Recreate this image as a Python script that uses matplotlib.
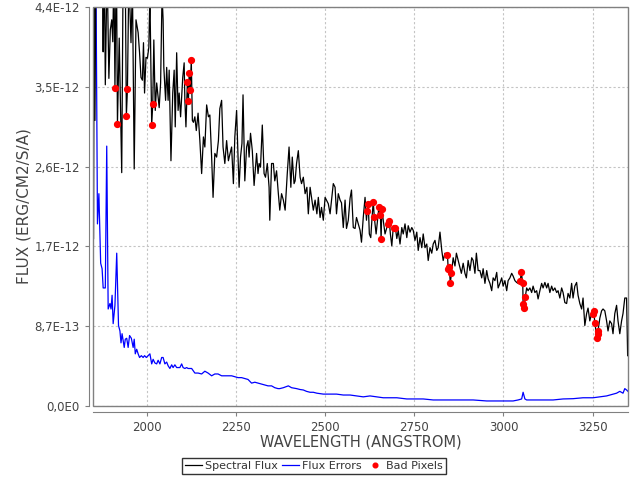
import matplotlib
matplotlib.use('Agg')
import matplotlib.pyplot as plt
from matplotlib.patches import Rectangle
import numpy as np

###############################################################################
# data (flux in units of 1e-12 erg/cm2/s/A)

wave = [1851, 1853, 1855, 1858, 1870, 1875, 1878, 1881, 1884, 1889, 1894, 1898,
        1902, 1905, 1908, 1915, 1923, 1930, 1934, 1939, 1950, 1956, 1960, 1965,
        1970, 1976, 1980, 1984, 1988, 1991, 1994, 1998, 2002, 2006, 2009, 2020,
        2024, 2028, 2032, 2035, 2039, 2043, 2046, 2048, 2053, 2056, 2060, 2063,
        2068, 2073, 2077, 2080, 2084, 2088, 2091, 2095, 2101, 2105, 2107, 2110,
        2128, 2131, 2135, 2139, 2144, 2149, 2154, 2159, 2163, 2168, 2173, 2177,
        2182, 2186, 2191, 2196, 2201, 2205, 2210, 2214, 2219, 2224, 2229, 2233,
        2238, 2243, 2247, 2252, 2256, 2259, 2263, 2267, 2270, 2275, 2280, 2284,
        2287, 2291, 2296, 2301, 2305, 2308, 2312, 2315, 2319, 2324, 2329, 2333,
        2338, 2343, 2345, 2350, 2355, 2359, 2364, 2369, 2373, 2378, 2383, 2388,
        2394, 2399, 2404, 2408, 2413, 2416, 2420, 2425, 2430, 2434, 2439, 2444,
        2449, 2453, 2458, 2462, 2467, 2472, 2477, 2481, 2486, 2490, 2495, 2500,
        2504, 2509, 2514, 2518, 2523, 2528, 2532, 2537, 2542, 2546, 2551, 2556,
        2560, 2565, 2570, 2574, 2579, 2584, 2588, 2593, 2598, 2602, 2607, 2612,
        2616, 2624, 2628, 2632, 2643, 2646, 2663, 2668, 2673, 2683, 2687, 2691,
        2701, 2705, 2710, 2715, 2719, 2724, 2729, 2733, 2738, 2743, 2747, 2752,
        2757, 2761, 2766, 2771, 2775, 2780, 2785, 2789, 2794, 2799, 2803, 2808,
        2813, 2817, 2822, 2827, 2831, 2836, 2859, 2864, 2868, 2873, 2878, 2882,
        2887, 2892, 2896, 2901, 2906, 2911, 2915, 2920, 2924, 2929, 2934, 2939,
        2943, 2948, 2953, 2957, 2962, 2967, 2971, 2976, 2981, 2985, 2990, 2995,
        2999, 3004, 3009, 3013, 3018, 3023, 3027, 3032, 3037, 3041, 3065, 3069,
        3074, 3079, 3083, 3088, 3093, 3097, 3102, 3107, 3111, 3116, 3121, 3125,
        3130, 3135, 3139, 3144, 3149, 3153, 3158, 3163, 3167, 3172, 3177, 3181,
        3186, 3191, 3195, 3200, 3205, 3209, 3214, 3219, 3223, 3228, 3233, 3237,
        3242, 3247, 3270, 3275, 3279, 3284, 3289, 3293, 3298, 3303, 3307, 3312,
        3317, 3321, 3326, 3331, 3335, 3340, 3345, 3348]

flux = [1.83, 5.0, 3.12, 5.0, 5.5, 5.0, 3.87, 5.0, 3.51, 4.8, 3.58, 4.11,
        4.22, 3.98, 4.8, 5.0, 4.02, 2.55, 4.8, 5.2, 4.7, 3.97, 4.6, 2.59,
        4.22, 4.08, 3.86, 3.59, 3.56, 3.97, 3.42, 3.81, 3.80, 3.92, 4.5, 4.00,
        3.23, 3.53, 3.37, 3.26, 3.53, 4.5, 4.22, 3.70, 3.34, 3.70, 3.34, 3.67,
        2.68, 3.42, 3.67, 3.05, 3.86, 3.23, 3.42, 3.16, 3.59, 3.75, 3.34, 3.05,
        3.12, 3.10, 3.16, 3.01, 3.20, 2.90, 2.54, 2.94, 2.83, 3.29, 3.16, 3.18,
        2.72, 2.28, 2.76, 2.72, 2.90, 3.25, 3.34, 2.83, 2.65, 2.90, 2.68, 2.75,
        2.83, 2.43, 2.94, 3.23, 2.72, 2.39, 2.72, 2.87, 3.40, 2.46, 2.83, 2.90,
        2.72, 2.98, 2.79, 2.41, 2.61, 2.76, 2.54, 2.65, 2.61, 3.07, 2.54, 2.50,
        2.65, 2.39, 2.03, 2.65, 2.65, 2.46, 2.57, 2.32, 2.14, 2.32, 2.25, 2.14,
        2.54, 2.83, 2.39, 2.72, 2.43, 2.46, 2.65, 2.79, 2.50, 2.43, 2.50, 2.32,
        2.39, 2.10, 2.39, 2.28, 2.14, 2.25, 2.10, 2.28, 2.06, 2.17, 2.03, 2.28,
        2.25, 2.21, 2.10, 2.25, 2.43, 2.39, 2.10, 2.32, 2.25, 2.22, 1.95, 2.25,
        1.94, 2.03, 2.27, 2.36, 1.95, 1.94, 2.06, 1.99, 1.92, 1.79, 2.06, 2.28,
        2.03, 1.88, 1.84, 2.08, 1.88, 1.99, 2.03, 1.88, 1.95, 1.88, 1.75, 1.95,
        1.83, 1.92, 1.77, 1.95, 1.88, 1.99, 1.84, 1.97, 1.90, 1.95, 1.92, 1.81,
        1.90, 1.70, 1.84, 1.73, 1.88, 1.73, 1.77, 1.59, 1.73, 1.67, 1.77, 1.81,
        1.70, 1.73, 1.90, 1.70, 1.59, 1.67, 1.62, 1.53, 1.67, 1.59, 1.51, 1.45,
        1.56, 1.45, 1.40, 1.59, 1.48, 1.62, 1.59, 1.45, 1.67, 1.48, 1.48, 1.40,
        1.50, 1.34, 1.48, 1.39, 1.34, 1.26, 1.40, 1.37, 1.46, 1.29, 1.34, 1.40,
        1.31, 1.37, 1.26, 1.37, 1.40, 1.45, 1.42, 1.37, 1.35, 1.34, 1.29, 1.26,
        1.29, 1.24, 1.31, 1.24, 1.26, 1.17, 1.26, 1.34, 1.29, 1.35, 1.29, 1.34,
        1.24, 1.31, 1.26, 1.29, 1.24, 1.26, 1.18, 1.29, 1.24, 1.13, 1.12, 1.23,
        1.18, 1.34, 1.18, 1.31, 1.35, 1.21, 1.12, 1.06, 1.18, 0.88, 1.01, 1.07,
        0.93, 1.01, 0.96, 1.04, 1.06, 1.04, 0.93, 0.82, 0.93, 0.90, 0.79, 1.01,
        1.10, 0.93, 0.79, 0.93, 1.01, 1.18, 1.18, 0.55]

# bad pixels (also part of the flux spectrum)
bad_wave = [1911, 1918, 1943, 1946, 2014, 2017, 2114, 2117, 2119, 2122, 2125,
            2618, 2621, 2635, 2638, 2651, 2655, 2657, 2659, 2677, 2680, 2694,
            2697, 2843, 2845, 2848, 2851, 2854, 3047, 3050, 3054, 3055, 3058,
            3061, 3251, 3253, 3256, 3262, 3264, 3265]
bad_flux = [3.48, 3.08, 3.17, 3.46, 3.07, 3.30, 3.54, 3.33, 3.64, 3.45, 3.78,
            2.13, 2.21, 2.23, 2.06, 2.18, 2.09, 1.82, 2.15, 1.99, 2.02, 1.95,
            1.95, 1.65, 1.50, 1.52, 1.34, 1.45, 1.37, 1.46, 1.34, 1.12, 1.07,
            1.19, 1.00, 1.04, 0.91, 0.74, 0.79, 0.82]

# flux errors
err_wave = [1853, 1858, 1862, 1866, 1871, 1875, 1878, 1884, 1888, 1892, 1897,
            1900, 1903, 1906, 1911, 1916, 1921, 1925, 1928, 1931, 1937, 1940,
            1944, 1948, 1952, 1957, 1962, 1965, 1968, 1972, 1976, 1980, 1985,
            1990, 1994, 1999, 2009, 2014, 2018, 2023, 2028, 2032, 2037, 2042,
            2046, 2051, 2056, 2060, 2065, 2070, 2074, 2079, 2084, 2088, 2093,
            2098, 2102, 2107, 2112, 2116, 2126, 2135, 2144, 2154, 2163, 2172,
            2182, 2191, 2200, 2210, 2219, 2228, 2238, 2247, 2256, 2266, 2275,
            2284, 2294, 2303, 2312, 2322, 2331, 2340, 2350, 2359, 2368, 2373,
            2383, 2397, 2406, 2420, 2430, 2439, 2448, 2458, 2467, 2477, 2495,
            2514, 2532, 2551, 2570, 2588, 2607, 2626, 2644, 2663, 2682, 2701,
            2729, 2747, 2775, 2803, 2840, 2878, 2915, 2953, 2990, 3027, 3041,
            3051, 3055, 3060, 3065, 3102, 3139, 3167, 3195, 3223, 3251, 3270,
            3289, 3307, 3317, 3326, 3335, 3340, 3345, 3349]
err = [6.0, 4.6, 1.99, 2.32, 1.56, 1.50, 1.29, 1.29, 2.84, 1.06, 1.12,
       1.06, 1.21, 0.90, 1.10, 1.67, 0.88, 0.82, 0.69, 0.79, 0.64, 0.73,
       0.74, 0.64, 0.77, 0.74, 0.64, 0.73, 0.57, 0.62, 0.57, 0.53, 0.55,
       0.53, 0.55, 0.53, 0.57, 0.46, 0.51, 0.47, 0.46, 0.50, 0.46, 0.53,
       0.53, 0.46, 0.48, 0.44, 0.41, 0.45, 0.42, 0.45, 0.42, 0.42, 0.42,
       0.46, 0.42, 0.41, 0.42, 0.41, 0.41, 0.36, 0.36, 0.35, 0.38, 0.36,
       0.33, 0.35, 0.35, 0.33, 0.33, 0.33, 0.33, 0.32, 0.31, 0.31, 0.30,
       0.29, 0.25, 0.26, 0.25, 0.24, 0.23, 0.22, 0.22, 0.20, 0.19, 0.19,
       0.20, 0.22, 0.20, 0.19, 0.18, 0.175, 0.16, 0.15, 0.15, 0.14, 0.13,
       0.13, 0.13, 0.12, 0.12, 0.11, 0.10, 0.11, 0.10, 0.09, 0.09, 0.09,
       0.077, 0.077, 0.077, 0.066, 0.066, 0.066, 0.066, 0.055, 0.055, 0.055, 0.066,
       0.077, 0.15, 0.077, 0.066, 0.066, 0.066, 0.077, 0.08, 0.09, 0.09, 0.10,
       0.11, 0.13, 0.14, 0.16, 0.14, 0.19, 0.175, 0.16]

x_ticks = [2000, 2250, 2500, 2750, 3000, 3250]
y_tick_labels = ['0,0E0', '8,7E-13', '1,7E-12', '2,6E-12', '3,5E-12', '4,4E-12']
y_max = 4.36e-12

###############################################################################
# the line goes through the bad pixels too

all_w = np.array(wave + bad_wave)
all_f = np.array(flux + bad_flux)
order = np.argsort(all_w, kind='stable')
line_w = all_w[order]
line_f = all_f[order] * 1e-12

fig = plt.figure(figsize=(6.4, 4.8), dpi=100)
ax = fig.add_axes([93/640, 1 - 406/480, 535/640, 399/480])

ax.plot(line_w, line_f, color='black', lw=0.9, label='Spectral Flux', zorder=3)
ax.plot(err_wave, np.array(err) * 1e-12, color='blue', lw=0.9,
        label='Flux Errors', zorder=2)
ax.plot(bad_wave, np.array(bad_flux) * 1e-12, 'o', color='red', ms=4.2,
        mec='red', label='Bad Pixels', zorder=4, linestyle='none')

ax.set_xlim(1849.5, 3349)
ax.set_ylim(0, y_max)
ax.set_xticks(x_ticks)
ax.set_yticks(np.linspace(0, y_max, 6))
ax.set_yticklabels(y_tick_labels)

ax.grid(True, color='#c4c4c4', linestyle=(0, (2, 2)), lw=0.8)
ax.set_axisbelow(True)

# axis lines sit a few pixels away from the plot border
for s in ['top', 'right']:
    ax.spines[s].set_visible(False)
ax.spines['left'].set_position(('outward', 3))
ax.spines['bottom'].set_position(('outward', 4))
for s in ['left', 'bottom']:
    ax.spines[s].set_color('#808080')
ax.add_patch(Rectangle((0, 0), 1, 1, transform=ax.transAxes, fill=False,
                       ec='#808080', lw=1, clip_on=False, zorder=5))

ax.tick_params(colors='#808080', labelcolor='#444444', labelsize=8.5,
               length=3, width=0.8)

ax.set_xlabel('WAVELENGTH (ANGSTROM)', fontsize=10.5, color='#444444', labelpad=1)
ax.set_ylabel('FLUX (ERG/CM2/S/A)', fontsize=11, color='#444444', labelpad=2)

leg = fig.legend(loc='center', bbox_to_anchor=(314/640, 1 - 466/480), ncol=3,
                 fontsize=8, frameon=True, fancybox=False, edgecolor='black',
                 handlelength=1.5, handletextpad=0.3, columnspacing=0.4,
                 borderpad=0.3, markerscale=0.8)
leg.get_frame().set_linewidth(1.0)
for t in leg.get_texts():
    t.set_color('#333333')

plt.savefig('out.png', dpi=100)
